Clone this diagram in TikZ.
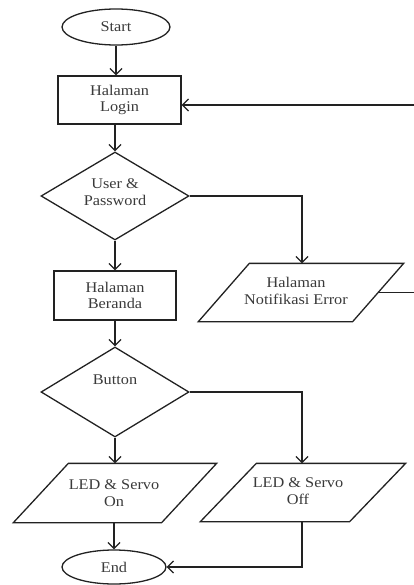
\documentclass[tikz,border=0pt]{standalone}
\usepackage{fontspec}
\setmainfont{Liberation Serif}[FakeStretch=1.1]
\usetikzlibrary{arrows.meta,shapes.geometric,calc}
\definecolor{txt}{HTML}{3A3A3A}
\definecolor{ln}{HTML}{222222}
\tikzset{
  base/.style={draw=ln, line width=1.3pt, text=txt, inner sep=0pt, align=center,
    font=\fontsize{14.8}{16.5}\selectfont},
  term/.style={base, ellipse},
  procbox/.style={base, rectangle},
  decide/.style={base, diamond},
  iobox/.style={base, draw=none, rectangle},
  txtnode/.style={text=txt, inner sep=0pt, align=center, font=\fontsize{14.8}{16.5}\selectfont},
  conn/.style={draw=ln, line width=1.3pt, -{Straight Barb[length=6pt,width=12pt,line width=1.3pt]}},
  plainline/.style={draw=ln, line width=1.3pt}
}
\newcommand{\parall}[2]{% node name, slant
  \draw[ln, line width=1.3pt] ([xshift=-#2/2]#1.south west) -- ([xshift=-#2/2]#1.south east)
    -- ([xshift=#2/2]#1.north east) -- ([xshift=#2/2]#1.north west) -- cycle;}
\begin{document}
\begin{tikzpicture}[x=1pt,y=-1pt]
\useasboundingbox (0,0) rectangle (414,585);
\clip (0,0) rectangle (414,585);
% nodes
\node[term, minimum width=108pt, minimum height=36pt] (start) at (116,27) {Start};
\node[procbox, minimum width=123pt, minimum height=48pt] (login) at (119.5,100) {Halaman\\Login};
\node[decide, minimum width=148pt, minimum height=88pt] (up) at (115,196) {};
\node[txtnode] (uptext) at (115,192) {User \&\\Password};
\node[iobox, minimum width=153pt, minimum height=57pt] (notif) at (301,292.5) {};
\node[txtnode] (notiftext) at (296,291) {Halaman\\Notifikasi Error};
\node[procbox, minimum width=122pt, minimum height=49pt] (beranda) at (115,295.5) {Halaman\\Beranda};
\node[decide, minimum width=148pt, minimum height=90pt] (btn) at (115,392) {};
\node[txtnode] (btntext) at (115,380) {Button};
\node[iobox, minimum width=147pt, minimum height=58pt] (on) at (115,493) {};
\node[txtnode] (ontext) at (114,493) {LED \& Servo\\On};
\node[iobox, minimum width=148pt, minimum height=57pt] (off) at (303,492.5) {};
\node[txtnode] (offtext) at (298,491) {LED \& Servo\\Off};
\node[term, minimum width=104pt, minimum height=34pt] (end) at (114,567) {End};
\parall{notif}{51}
\parall{on}{55}
\parall{off}{56}
\coordinate (colR) at (302,0);
\coordinate (farR) at (430,0);
% connectors
\draw[conn] (start.south) -- (start.south |- login.north);
\draw[conn] (login.south -| up.north) -- (up.north);
\draw[conn] (up.south) -- (beranda.north);
\draw[conn] (up.east) -| (notif.north -| colR);
\draw[conn] (notif.east) -- (notif.east -| farR) |- ([yshift=-5pt]login.east);
\draw[conn] (beranda.south) -- (btn.north);
\draw[conn] (btn.south) -- (on.north);
\draw[conn] (btn.east) -| (off.north -| colR);
\draw[conn] (on.south -| end.north) -- (end.north);
\draw[conn] (off.south -| colR) |- (end.east);
\end{tikzpicture}
\end{document}
